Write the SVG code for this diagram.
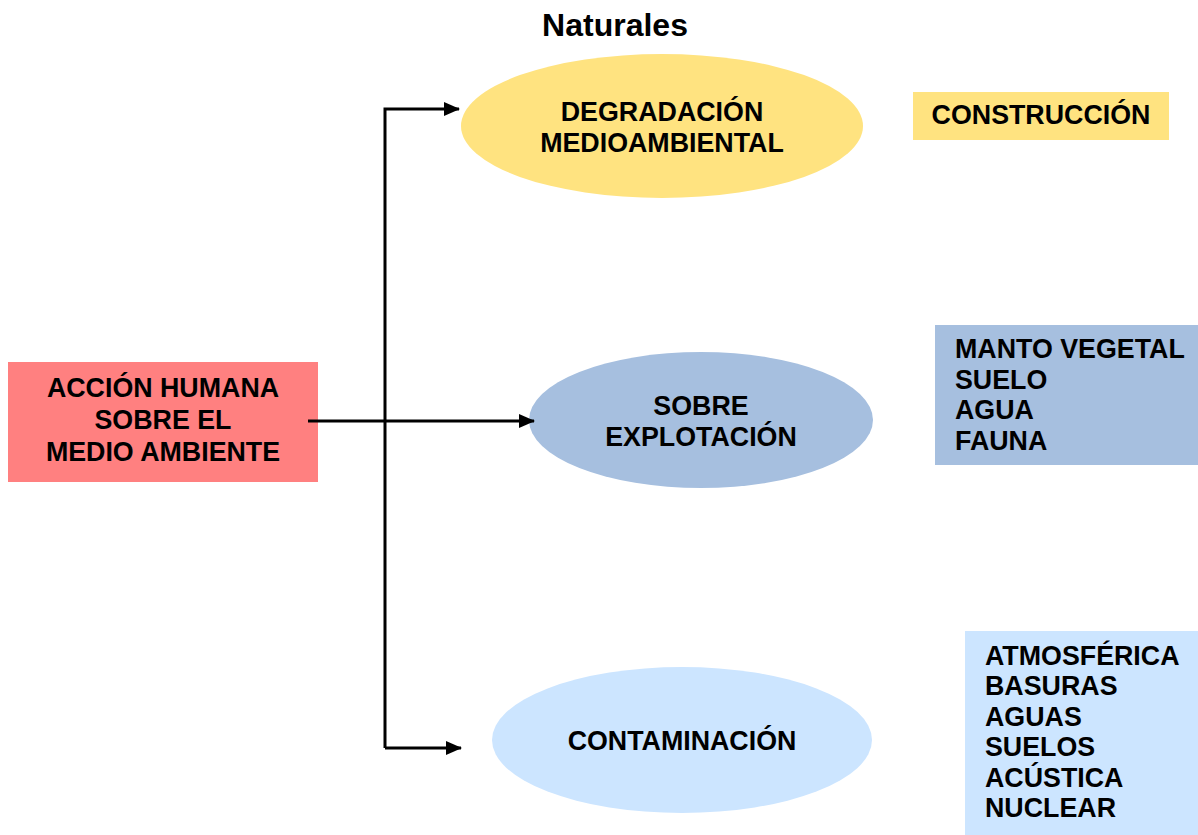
<svg xmlns="http://www.w3.org/2000/svg" width="1198" height="835" viewBox="0 0 1198 835">
<defs>
<marker id="ah" markerWidth="16" markerHeight="14" refX="15" refY="7" orient="auto" markerUnits="userSpaceOnUse" viewBox="0 0 16 14">
<path d="M0,0 L16,7 L0,14 Z" fill="#000"/>
</marker>
<style>
text{font-family:"Liberation Sans",Arial,sans-serif;font-weight:bold;font-size:26.8px;fill:#000}
.c{text-anchor:middle}
.ln{stroke:#000;stroke-width:3;fill:none}
</style>
</defs>
<rect width="1198" height="835" fill="#fff"/>
<g id="title"><text class="c" x="615" y="36" style="font-size:32px">Naturales</text></g>
<g id="accion">
<rect x="8" y="362" width="310" height="120" fill="#FF8080"/>
<text class="c" x="163" y="397">ACCIÓN HUMANA</text>
<text class="c" x="163" y="429">SOBRE EL</text>
<text class="c" x="163" y="461">MEDIO AMBIENTE</text>
</g>
<g id="degradacion">
<ellipse cx="662" cy="126" rx="201" ry="72" fill="#FFE380"/>
<text class="c" x="662" y="121">DEGRADACIÓN</text>
<text class="c" x="662" y="152">MEDIOAMBIENTAL</text>
</g>
<g id="sobreexplotacion">
<ellipse cx="701" cy="420" rx="172" ry="68" fill="#A6BFDF"/>
<text class="c" x="701" y="415">SOBRE</text>
<text class="c" x="701" y="446">EXPLOTACIÓN</text>
</g>
<g id="contaminacion">
<ellipse cx="682" cy="740" rx="190" ry="73" fill="#CCE5FF"/>
<text class="c" x="682" y="750">CONTAMINACIÓN</text>
</g>
<g id="construccion">
<rect x="913" y="92" width="256" height="48" fill="#FFE380"/>
<text class="c" x="1041" y="124">CONSTRUCCIÓN</text>
</g>
<g id="recursos">
<rect x="935" y="325" width="263" height="140" fill="#A6BFDF"/>
<text x="955" y="358">MANTO VEGETAL</text>
<text x="955" y="389">SUELO</text>
<text x="955" y="419">AGUA</text>
<text x="955" y="450">FAUNA</text>
</g>
<g id="tipos">
<rect x="965" y="631" width="233" height="204" fill="#CCE5FF"/>
<text x="985" y="665">ATMOSFÉRICA</text>
<text x="985" y="695">BASURAS</text>
<text x="985" y="726">AGUAS</text>
<text x="985" y="756">SUELOS</text>
<text x="985" y="787">ACÚSTICA</text>
<text x="985" y="817">NUCLEAR</text>
</g>
<g id="connectors">
<polyline class="ln" points="385,748 385,109 459,109" marker-end="url(#ah)"/>
<line class="ln" x1="308" y1="421" x2="534" y2="421" marker-end="url(#ah)"/>
<line class="ln" x1="385" y1="748" x2="461" y2="748" marker-end="url(#ah)"/>
</g>
</svg>
